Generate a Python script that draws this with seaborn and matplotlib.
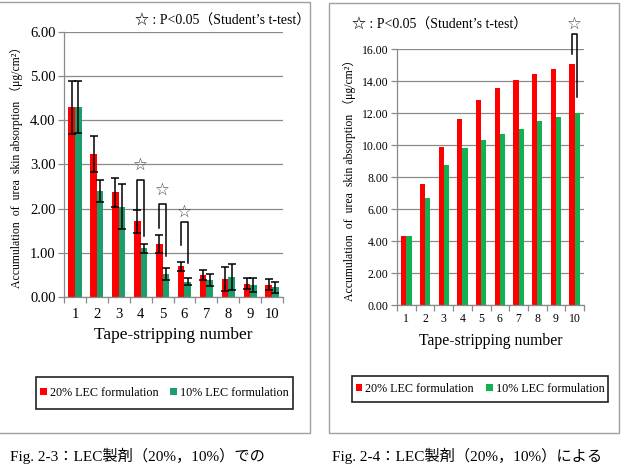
import numpy as np
import pandas as pd
import matplotlib
matplotlib.use("Agg")
import matplotlib.pyplot as plt
from matplotlib.patches import Rectangle, Patch
import seaborn as sns

# data
strips = [str(i) for i in range(1, 11)]
groups = ["20% LEC formulation", "10% LEC formulation"]

# Fig. 2-3 : amount per tape strip (mean, SD)
per_20 = [4.30, 3.24, 2.37, 1.72, 1.20, 0.70, 0.50, 0.40, 0.30, 0.28]
per_10 = [4.30, 2.40, 2.04, 1.10, 0.52, 0.35, 0.38, 0.45, 0.27, 0.22]
sd_20 = [0.60, 0.41, 0.33, 0.26, 0.20, 0.10, 0.12, 0.27, 0.12, 0.12]
sd_10 = [0.58, 0.26, 0.51, 0.10, 0.14, 0.08, 0.13, 0.30, 0.15, 0.13]

# Fig. 2-4 : cumulative amount
cum_20 = [4.30, 7.55, 9.90, 11.62, 12.82, 13.55, 14.05, 14.45, 14.75, 15.05]
cum_10 = [4.30, 6.68, 8.72, 9.80, 10.32, 10.67, 11.03, 11.50, 11.77, 12.00]

# significance marks: strip index, bracket top, left leg end, right leg end, star y
sig_left = [(3, 2.65, 2.00, 1.38, 3.00), (4, 2.10, 1.56, 0.93, 2.42), (5, 1.70, 1.18, 0.77, 1.93)]
sig_right = [(9, 16.95, 15.70, 13.00, 17.60)]

yticks_left = [0, 1, 2, 3, 4, 5, 6]
yticks_right = [0, 2, 4, 6, 8, 10, 12, 14, 16]

ylab = "Accumulation  of  urea  skin absorption \uff08\u03bcg/cm\u00b2\uff09"
note = "\u2606 : P<0.05\uff08Student\u2019s t-test\uff09"

plt.rcParams["font.family"] = ["Liberation Serif", "Noto Sans CJK JP", "DejaVu Sans"]
plt.rcParams["mathtext.default"] = "regular"

RED = "#ff0000"
GREEN_L = "#1a9e6c"
GREEN_R = "#12b050"
GRAY = "#8a8a8a"

W, H = 625, 465
fig = plt.figure(figsize=(6.25, 4.65), dpi=100)


def px(x0, y0, x1, y1):
    # pixel box -> figure fraction [left, bottom, width, height]
    return [x0 / W, 1 - y1 / H, (x1 - x0) / W, (y1 - y0) / H]


def panel(ax, a, b, width, green, yticks, fs_tick, fs_lab, xpad, ylab_x, xlab_y):
    df = pd.DataFrame({
        "strip": strips * 2,
        "value": a + b,
        "group": [groups[0]] * len(strips) + [groups[1]] * len(strips),
    })
    sns.barplot(data=df, x="strip", y="value", hue="group", palette=[RED, green],
                width=width, errorbar=None, linewidth=0, saturation=1,
                legend=False, ax=ax)
    ax.set_xlim(-0.5, 9.5)
    ax.set_ylim(yticks[0], yticks[-1])
    ax.set_yticks(yticks)
    ax.set_yticklabels(["%.2f" % t for t in yticks], fontsize=fs_tick)
    ax.set_xticks(range(10))
    ax.set_xticklabels(strips, fontsize=fs_tick)
    ax.set_xticks(np.arange(-0.5, 10, 1), minor=True)
    ax.tick_params(axis="x", which="major", length=0, pad=xpad)
    ax.tick_params(axis="x", which="minor", length=4, color=GRAY, width=0.9)
    ax.tick_params(axis="y", length=4, color=GRAY, width=0.9, pad=2)
    ax.yaxis.grid(True, color=GRAY, lw=0.9)
    ax.set_axisbelow(True)
    for s in ["top", "right"]:
        ax.spines[s].set_visible(False)
    for s in ["left", "bottom"]:
        ax.spines[s].set_color(GRAY)
        ax.spines[s].set_linewidth(0.9)
    ax.set_xlabel("Tape-stripping number", fontsize=fs_lab, va="top")
    ax.xaxis.set_label_coords(0.5, xlab_y)
    ax.set_ylabel(ylab, fontsize=8.5)
    ax.yaxis.set_label_coords(ylab_x, 0.5)


def centers(ax):
    return [[p.get_x() + p.get_width() / 2 for p in c] for c in ax.containers]


def brackets(ax, sig, cx):
    for i, top, lb, rb, sy in sig:
        xl, xr = cx[0][i], cx[1][i]
        ax.plot([xl, xl, xr, xr], [lb, top, top, rb], color="black", lw=1.1,
                clip_on=False, zorder=5)
        ax.text((xl + xr) / 2, sy, "\u2606", ha="center", va="center",
                fontsize=12, color="#444444", family="DejaVu Sans", clip_on=False)


# outer frames
fig.patches.append(Rectangle((-5 / W, 1 - 433 / H), 315 / W, 431 / H, transform=fig.transFigure,
                             fill=False, edgecolor="#a0a0a0", lw=1.0))
fig.patches.append(Rectangle((329 / W, 1 - 433 / H), 290 / W, 430 / H, transform=fig.transFigure,
                             fill=False, edgecolor="#a0a0a0", lw=1.0))

# left panel: per strip with SD
ax1 = fig.add_axes(px(64, 32, 283, 297))
panel(ax1, per_20, per_10, 0.6, GREEN_L, yticks_left, 10.5, 12.5, 8, -0.185, -0.115)
cx1 = centers(ax1)
for xs, vals, sd in zip(cx1, [per_20, per_10], [sd_20, sd_10]):
    ax1.errorbar(xs, vals, yerr=sd, fmt="none", ecolor="black", elinewidth=1.1,
                 capsize=2.6, capthick=1.1, zorder=4)
brackets(ax1, sig_left, cx1)

# right panel: cumulative
ax2 = fig.add_axes(px(397, 49, 584, 305))
panel(ax2, cum_20, cum_10, 0.56, GREEN_R, yticks_right, 8.5, 11.3, 6, -0.22, -0.11)
cx2 = centers(ax2)
brackets(ax2, sig_right, cx2)

# significance notes
fig.text(135 / W, 1 - 21 / H, note, fontsize=10, ha="left", va="center")
fig.text(352 / W, 1 - 25 / H, note, fontsize=10, ha="left", va="center")

# legends with square frames
for (x0, y0, x1, y1), green in [((36, 377, 293, 409), GREEN_L), ((352, 376, 608, 402), GREEN_R)]:
    fig.patches.append(Rectangle((x0 / W, 1 - y1 / H), (x1 - x0) / W, (y1 - y0) / H,
                                 transform=fig.transFigure, fill=False, edgecolor="#222222", lw=1.2))
    handles = [Patch(facecolor=RED), Patch(facecolor=green)]
    fig.legend(handles, groups, loc="center", ncol=2, frameon=False, fontsize=8.7,
               bbox_to_anchor=((x0 + x1) / 2 / W, 1 - (y0 + y1) / 2 / H),
               handlelength=0.55, handleheight=0.55, handletextpad=0.25, columnspacing=1.0)

# captions
fig.text(10 / W, 1 / H, "Fig. 2-3\uff1aLEC\u88fd\u5264\uff0820%\uff0c10%\uff09\u3067\u306e",
         fontsize=11, ha="left", va="bottom")
fig.text(332 / W, 1 / H, "Fig. 2-4\uff1aLEC\u88fd\u5264\uff0820%\uff0c10%\uff09\u306b\u3088\u308b",
         fontsize=11, ha="left", va="bottom")

fig.savefig("out.png", dpi=100)
